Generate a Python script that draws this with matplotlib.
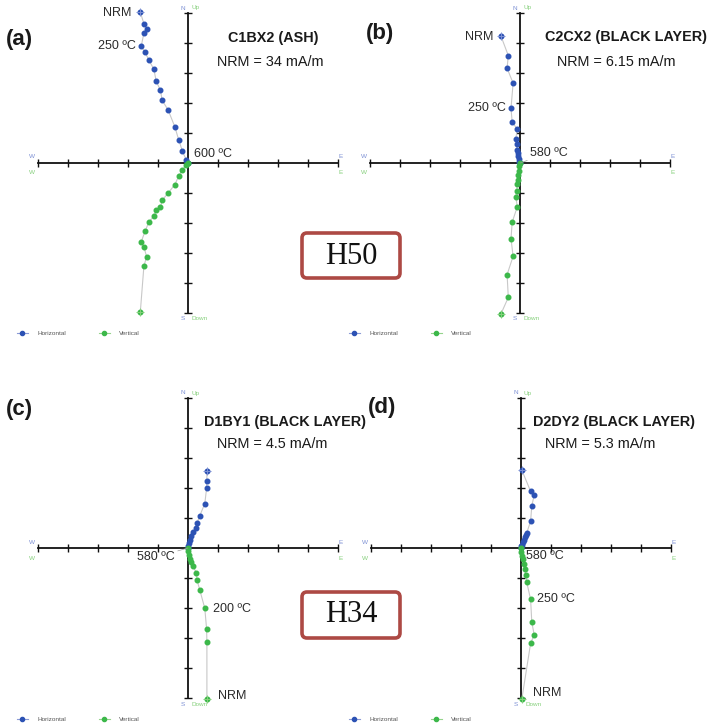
import matplotlib
matplotlib.use("Agg")
import matplotlib.pyplot as plt
from matplotlib.lines import Line2D
from matplotlib.patches import FancyBboxPatch

plt.rcParams['font.family'] = ['Liberation Sans', 'DejaVu Sans']

# ---------------- data (axis tick units) ----------------
a_east  = [-1.59, -1.47, -1.38, -1.47, -1.56, -1.43, -1.30, -1.14, -1.06, -0.92, -0.86, -0.66, -0.44, -0.31, -0.19, -0.06, 0.0]
a_north = [5.03, 4.64, 4.48, 4.33, 3.89, 3.69, 3.42, 3.13, 2.73, 2.42, 2.09, 1.76, 1.21, 0.77, 0.41, 0.10, 0.0]
a_up    = [-4.97, -3.44, -3.12, -2.80, -2.63, -2.27, -1.96, -1.78, -1.58, -1.47, -1.24, -1.00, -0.72, -0.44, -0.22, -0.08, 0.0]

b_east  = [-0.63, -0.39, -0.43, -0.23, -0.30, -0.26, -0.09, -0.14, -0.11, -0.09, -0.07, -0.06, -0.04, -0.03, 0.0]
b_north = [4.22, 3.58, 3.16, 2.66, 1.82, 1.36, 1.13, 0.81, 0.63, 0.44, 0.33, 0.22, 0.13, 0.04, 0.0]
b_up    = [-5.02, -4.48, -3.72, -3.11, -2.52, -1.97, -1.46, -1.13, -0.94, -0.70, -0.55, -0.40, -0.25, -0.10, 0.0]

c_east  = [0.63, 0.63, 0.62, 0.56, 0.39, 0.30, 0.28, 0.16, 0.11, 0.07, 0.03, 0.01, 0.0]
c_north = [2.58, 2.23, 1.99, 1.48, 1.07, 0.83, 0.67, 0.53, 0.39, 0.28, 0.17, 0.08, 0.0]
c_up    = [-5.03, -3.13, -2.70, -2.01, -1.39, -1.07, -0.82, -0.61, -0.48, -0.37, -0.22, -0.11, 0.0]

d_east  = [0.03, 0.32, 0.44, 0.36, 0.32, 0.19, 0.16, 0.12, 0.09, 0.06, 0.03, 0.01, 0.0]
d_north = [2.59, 1.89, 1.76, 1.41, 0.89, 0.50, 0.42, 0.36, 0.28, 0.19, 0.11, 0.06, 0.0]
d_up    = [-5.02, -3.18, -2.89, -2.48, -1.71, -1.14, -0.89, -0.70, -0.52, -0.37, -0.26, -0.14, 0.0]

panel_letters = ['(a)', '(b)', '(c)', '(d)']
sample_names = ['C1BX2 (ASH)', 'C2CX2 (BLACK LAYER)', 'D1BY1 (BLACK LAYER)', 'D2DY2 (BLACK LAYER)']
nrm_texts = ['NRM = 34 mA/m', 'NRM = 6.15 mA/m', 'NRM = 4.5 mA/m', 'NRM = 5.3 mA/m']
legend_labels = ['Horizontal', 'Vertical']
group_labels = ['H50', 'H34']

# ---------------- layout ----------------
W, H = 708, 727
fig = plt.figure(figsize=(W / 100, H / 100), dpi=100)
fx = lambda px: px / W
fy = lambda py: 1 - py / H
UNIT = 30  # pixels per tick

BLUE = '#2c52b4'
GREEN = '#3cb84a'
LBLUE = '#7d90d4'
LGREEN = '#86d07c'
LINE = '#c8c8c8'
TXT = '#2a2a2a'

centers = [(188, 163), (520, 163), (188, 548), (521, 548)]
series = [(a_east, a_north, a_up), (b_east, b_north, b_up),
          (c_east, c_north, c_up), (d_east, d_north, d_up)]

axes = []
for (cx, cy), (e, n, u) in zip(centers, series):
    ax = fig.add_axes([fx(cx - 6 * UNIT), fy(cy + 6 * UNIT), 12 * UNIT / W, 12 * UNIT / H])
    ax.set_xlim(-6, 6)
    ax.set_ylim(-6, 6)
    ax.patch.set_alpha(0)
    for s in ['top', 'right']:
        ax.spines[s].set_visible(False)
    for s in ['left', 'bottom']:
        ax.spines[s].set_position(('data', 0))
        ax.spines[s].set_bounds(-5, 5)
        ax.spines[s].set_linewidth(1.3)
        ax.spines[s].set_color('#111111')
    ticks = [t for t in range(-5, 6) if t != 0]
    ax.set_xticks(ticks)
    ax.set_yticks(ticks)
    ax.tick_params(direction='inout', length=6, width=1.0, color='#111111',
                   labelbottom=False, labelleft=False)

    ax.plot(e, n, '-', color=LINE, lw=0.8, marker='o', ms=3.3, mfc=BLUE, mec=BLUE, zorder=3)
    ax.plot(e[0], n[0], marker='+', ms=6, mew=0.7, color=LBLUE, zorder=4)
    ax.plot(e, u, '-', color=LINE, lw=0.8, marker='o', ms=3.3, mfc=GREEN, mec=GREEN, zorder=3)
    ax.plot(e[0], u[0], marker='+', ms=6, mew=0.7, color=LGREEN, zorder=4)

    small = dict(fontsize=4.6, textcoords='offset pixels', va='center', annotation_clip=False)
    ax.annotate('W', (-5, 0), xytext=(-6, 6), ha='center', color=LBLUE, **small)
    ax.annotate('W', (-5, 0), xytext=(-6, -10), ha='center', color=LGREEN, **small)
    ax.annotate('E', (5, 0), xytext=(3, 6), ha='center', color=LBLUE, **small)
    ax.annotate('E', (5, 0), xytext=(3, -10), ha='center', color=LGREEN, **small)
    ax.annotate('N', (0, 5), xytext=(-5, 5), ha='center', color=LBLUE, **small)
    ax.annotate('Up', (0, 5), xytext=(3, 5), ha='left', color=LGREEN, **small)
    ax.annotate('S', (0, -5), xytext=(-5, -6), ha='center', color=LBLUE, **small)
    ax.annotate('Down', (0, -5), xytext=(4, -6), ha='left', color=LGREEN, **small)
    axes.append(ax)

# ---------------- temperature labels ----------------
lab = dict(fontsize=9, color=TXT, textcoords='offset pixels', va='center', annotation_clip=False)
lead = dict(arrowstyle='-', color='#999999', lw=0.5, shrinkA=0, shrinkB=0)
ax = axes[0]
ax.annotate('NRM', (a_east[0], a_north[0]), xytext=(-9, -1), ha='right', **lab)
ax.annotate('250 ºC', (a_east[4], a_north[4]), xytext=(-5, 0), ha='right', **lab)
ax.annotate('600 ºC', (a_east[-1], a_north[-1]), xytext=(6, 9), ha='left', **lab)
ax = axes[1]
ax.annotate('NRM', (b_east[0], b_north[0]), xytext=(-8, -1), ha='right', **lab)
ax.annotate('250 ºC', (b_east[4], b_north[4]), xytext=(-5, 0), ha='right', **lab)
ax.annotate('580 ºC', (b_east[-1], b_north[-1]), xytext=(10, 10), ha='left', arrowprops=lead, **lab)
ax = axes[2]
ax.annotate('580 ºC', (c_east[-1], c_up[-1]), xytext=(-13, -9), ha='right', arrowprops=lead, **lab)
ax.annotate('200 ºC', (c_east[3], c_up[3]), xytext=(8, -1), ha='left', **lab)
ax.annotate('NRM', (c_east[0], c_up[0]), xytext=(11, 3), ha='left', **lab)
ax = axes[3]
ax.annotate('580 ºC', (d_east[-1], d_up[-1]), xytext=(5, -8), ha='left', **lab)
ax.annotate('250 ºC', (d_east[4], d_up[4]), xytext=(6, 0), ha='left', **lab)
ax.annotate('NRM', (d_east[0], d_up[0]), xytext=(11, 6), ha='left', **lab)

# ---------------- titles ----------------
letter_pos = [(6, 40), (366, 34), (6, 410), (368, 408)]
title_pos = [(273, 38, 'center'), (626, 37, 'center'), (204, 422, 'left'), (614, 422, 'center')]
nrm_pos = [(270, 62), (616, 62), (272, 444), (600, 444)]
for i in range(4):
    fig.text(fx(letter_pos[i][0]), fy(letter_pos[i][1]), panel_letters[i], fontsize=16,
             weight='bold', ha='left', va='center', color='#1a1a1a')
    tx, ty, ha = title_pos[i]
    fig.text(fx(tx), fy(ty), sample_names[i], fontsize=10.4, weight='bold', ha=ha,
             va='center', color='#1a1a1a')
    fig.text(fx(nrm_pos[i][0]), fy(nrm_pos[i][1]), nrm_texts[i], fontsize=10.4,
             ha='center', va='center', color='#1a1a1a')

# ---------------- legends ----------------
leg_pos = [(17, 333), (349, 333), (17, 719), (349, 719)]
for ax, (lx, ly) in zip(axes, leg_pos):
    hb = Line2D([], [], color='#8c9bd6', lw=0.8, marker='o', ms=3.0, mfc=BLUE, mec=BLUE)
    hg = Line2D([], [], color='#95d48c', lw=0.8, marker='o', ms=3.0, mfc=GREEN, mec=GREEN)
    lg = ax.legend([hb, hg], legend_labels, ncol=2, loc='center left',
                   bbox_to_anchor=(fx(lx), fy(ly)), bbox_transform=fig.transFigure,
                   frameon=False, fontsize=4.6, handlelength=1.7, handletextpad=1.5,
                   columnspacing=5.1, borderpad=0, borderaxespad=0, numpoints=1)
    for t in lg.get_texts():
        t.set_color('#555555')

# ---------------- group boxes ----------------
box_pos = [(302, 233, 278, 256), (302, 592, 638, 615)]
for (bx0, by0, by1, tyc), g in zip(box_pos, group_labels):
    bw = 98
    p = FancyBboxPatch((fx(bx0), fy(by1)), bw / W, (by1 - by0) / H,
                       boxstyle='round,pad=0,rounding_size=0.007',
                       transform=fig.transFigure, fc='white', ec='#ad4944', lw=2.6)
    fig.patches.append(p)
    fig.text(fx(bx0 + bw / 2), fy(tyc), g, fontsize=22, family='Liberation Serif',
             ha='center', va='center', color='#111111')

fig.savefig('out.png', dpi=100)
